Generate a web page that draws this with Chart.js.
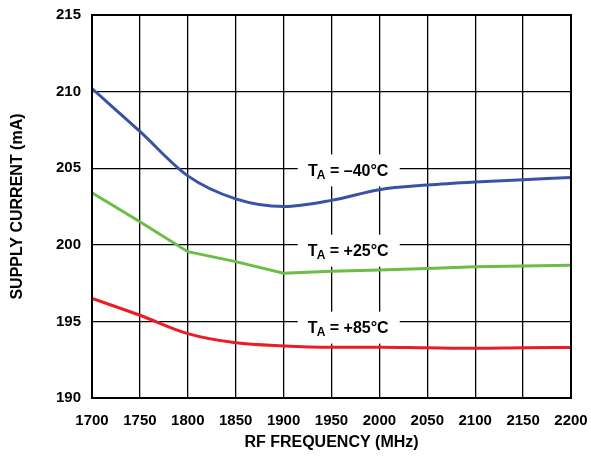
<!DOCTYPE html>
<html>
<head>
<meta charset="utf-8">
<script src="https://cdn.jsdelivr.net/npm/chart.js@4.4.0/dist/chart.umd.min.js"></script>
<style>
  html, body { margin: 0; padding: 0; background: #fff; }
  #wrap { width: 591px; height: 456px; }
</style>
</head>
<body>
<div id="wrap"><canvas id="chart" width="591" height="456"></canvas></div>
<script>
// RF frequency (MHz)
const frequencies = [1700, 1750, 1800, 1850, 1900, 1950, 2000, 2050, 2100, 2150, 2200];

// supply current (mA) per ambient temperature
const currentMinus40 = [210.2, 207.4, 204.5, 203.0, 202.5, 202.9, 203.6, 203.9, 204.1, 204.25, 204.4];
const currentPlus25 = [203.4, 201.5, 199.55, 198.9, 198.15, 198.27, 198.36, 198.46, 198.57, 198.62, 198.66];
const currentPlus85 = [196.5, 195.4, 194.2, 193.6, 193.4, 193.32, 193.32, 193.28, 193.25, 193.28, 193.3];

const yTicks = [190, 195, 200, 205, 210, 215];

const seriesLabels = ["–40°C", "+25°C", "+85°C"];
const labelAnchors = [
  { x: 1968, y: 204.92 },
  { x: 1968, y: 199.68 },
  { x: 1968, y: 194.66 },
];

const FONT = "'Liberation Sans', Arial, sans-serif";

// white boxed "T_A = ..." labels and the heavy frame around the plot
const labelPlugin = {
  id: "tempLabels",
  beforeDatasetsDraw(chart) {
    const ctx = chart.ctx;
    const xs = chart.scales.x;
    const ys = chart.scales.y;
    ctx.save();
    seriesLabels.forEach((txt, i) => {
      const cx = xs.getPixelForValue(labelAnchors[i].x);
      const cy = ys.getPixelForValue(labelAnchors[i].y);
      ctx.fillStyle = "#fff";
      ctx.fillRect(cx - 51, cy - 15, 102, 32);

      ctx.fillStyle = "#000";
      ctx.textBaseline = "alphabetic";
      ctx.font = "bold 16px " + FONT;
      const wT = ctx.measureText("T").width;
      ctx.font = "bold 12px " + FONT;
      const wA = ctx.measureText("A").width;
      ctx.font = "bold 16px " + FONT;
      const rest = " = " + txt;
      const wR = ctx.measureText(rest).width;
      let x = cx - (wT + wA + wR) / 2;
      const base = cy + 6.5;
      ctx.fillText("T", x, base);
      x += wT - 1;
      ctx.font = "bold 12px " + FONT;
      ctx.fillText("A", x, base + 3);
      x += wA;
      ctx.font = "bold 16px " + FONT;
      ctx.fillText(rest, x, base);
    });
    ctx.restore();
  },
  afterDraw(chart) {
    const a = chart.chartArea;
    const ctx = chart.ctx;
    ctx.save();
    ctx.strokeStyle = "#000";
    ctx.lineWidth = 2;
    ctx.strokeRect(a.left, a.top, a.right - a.left, a.bottom - a.top);
    ctx.restore();
  },
};

const ctx = document.getElementById("chart").getContext("2d");
new Chart(ctx, {
  type: "line",
  data: {
    labels: frequencies,
    datasets: [
      {
        label: "TA = –40°C",
        data: currentMinus40,
        borderColor: "#3953a4",
        borderWidth: 3,
        pointRadius: 0,
        cubicInterpolationMode: "monotone",
      },
      {
        label: "TA = +25°C",
        data: currentPlus25,
        borderColor: "#6cbd45",
        borderWidth: 3,
        pointRadius: 0,
        tension: 0,
      },
      {
        label: "TA = +85°C",
        data: currentPlus85,
        borderColor: "#ed1c24",
        borderWidth: 3,
        pointRadius: 0,
        cubicInterpolationMode: "monotone",
      },
    ],
  },
  options: {
    responsive: false,
    animation: false,
    layout: { padding: { top: 15, right: 20, left: 0, bottom: 0 } },
    plugins: {
      legend: { display: false },
      tooltip: { enabled: false },
    },
    scales: {
      x: {
        type: "linear",
        min: 1700,
        max: 2200,
        afterBuildTicks(scale) {
          scale.ticks = frequencies.map((v) => ({ value: v }));
        },
        afterFit(scale) {
          scale.height = 58;
          scale.paddingLeft = 0;
          scale.paddingRight = 0;
        },
        grid: { color: "#000", lineWidth: 1.3, drawTicks: false },
        border: { color: "#000", width: 2 },
        ticks: {
          color: "#000",
          padding: 14,
          maxRotation: 0,
          autoSkip: false,
          font: { family: FONT, size: 15, weight: "bold" },
          callback: (v) => String(v),
        },
        title: {
          display: true,
          text: "RF FREQUENCY (MHz)",
          color: "#000",
          padding: { top: 0, bottom: 4 },
          font: { family: FONT, size: 16, weight: "bold" },
        },
      },
      y: {
        min: 190,
        max: 215,
        afterBuildTicks(scale) {
          scale.ticks = yTicks.map((v) => ({ value: v }));
        },
        afterFit(scale) {
          scale.width = 92;
          scale.paddingTop = 0;
          scale.paddingBottom = 0;
        },
        grid: { color: "#000", lineWidth: 1.3, drawTicks: false },
        border: { color: "#000", width: 2 },
        ticks: {
          color: "#000",
          padding: 11,
          font: { family: FONT, size: 15, weight: "bold" },
        },
        title: {
          display: true,
          text: "SUPPLY CURRENT (mA)",
          color: "#000",
          padding: { top: 8, bottom: 0 },
          font: { family: FONT, size: 16, weight: "bold" },
        },
      },
    },
  },
  plugins: [labelPlugin],
});
</script>
</body>
</html>
